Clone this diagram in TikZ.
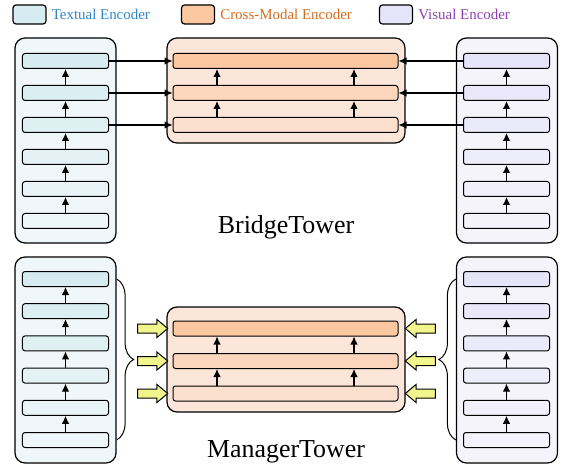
\documentclass[tikz,border=0pt]{standalone}
\usepackage{fontspec}
\setmainfont{Liberation Serif}
\usetikzlibrary{positioning,shapes.arrows,decorations.pathreplacing,arrows.meta}
\definecolor{txtcol}{RGB}{46,134,200}
\definecolor{xcol}{RGB}{214,108,30}
\definecolor{viscol}{RGB}{138,64,176}
\definecolor{txtlayer}{RGB}{214,236,240}
\definecolor{txtbox}{RGB}{240,247,250}
\definecolor{vislayer}{RGB}{230,228,248}
\definecolor{visbox}{RGB}{245,244,251}
\definecolor{xtop}{RGB}{251,200,162}
\definecolor{xmid}{RGB}{252,214,188}
\definecolor{xbot}{RGB}{252,224,207}
\definecolor{xboxcol}{RGB}{252,230,218}
\definecolor{yel}{RGB}{240,245,140}

\begin{document}
\begin{tikzpicture}[x=1bp,y=-1bp,
    tower/.style={draw,line width=1.2bp,rounded corners=10bp,minimum width=101bp,minimum height=205bp,inner sep=0},
    xbox/.style={tower,minimum width=238bp,minimum height=105bp},
    layer/.style={draw,line width=1bp,rounded corners=2.5bp,minimum width=86bp,minimum height=15bp,inner sep=0},
    xlayer/.style={layer,minimum width=225bp},
    swatch/.style={draw,line width=1.2bp,rounded corners=3bp,minimum width=33bp,minimum height=19bp,inner sep=0},
    legend/.style={font=\fontsize{15}{17}\selectfont,inner sep=0},
    title/.style={font=\fontsize{26}{30}\selectfont,inner sep=0},
    up/.style={-{Latex[length=8bp,width=7.5bp]},line width=1.1bp},
    fat/.style={single arrow,draw,fill=yel,line width=1bp,minimum height=30bp,inner xsep=0,inner ysep=4bp,single arrow head extend=4.5bp,single arrow tip angle=80},
    brc/.style={decorate,decoration={brace,amplitude=17bp},line width=1bp}]
\useasboundingbox (0,0) rectangle (570,466);

% legend
\node[swatch,fill=txtlayer] (sw1) at (29.5,14.5) {};
\node[legend,text=txtcol,right=5bp of sw1] (lg1) {Textual Encoder};
\node[swatch,fill=xtop] (sw2) at (198,14.5) {};
\node[legend,text=xcol,right=5bp of sw2] (lg2) {Cross-Modal Encoder};
\node[swatch,fill=vislayer] (sw3) at (396,14.5) {};
\node[legend,text=viscol,right=5bp of sw3] (lg3) {Visual Encoder};

% BridgeTower
\node[tower,fill=txtbox] (btb) at (65.5,140.5) {};
\node[tower,fill=visbox] (bvb) at (507,140.5) {};
\node[xbox,fill=xboxcol] (bxb) at (286,90.5) {};
\foreach \i in {1,...,6}{
  \pgfmathsetmacro\p{100-11*(\i-1)}
  \node[layer,fill=txtlayer!\p!white] (bt\i) at (65.5,{61+32*(\i-1)}) {};
  \node[layer,fill=vislayer!\p!white] (bv\i) at (506.5,{61+32*(\i-1)}) {};
}
\foreach \i/\c in {1/xtop,2/xmid,3/xbot}
  \node[xlayer,fill=\c] (bc\i) at (285.5,{61+32*(\i-1)}) {};
\foreach \i [evaluate=\i as \j using int(\i-1)] in {2,...,6}{
  \draw[up] (bt\i) -- (bt\j);
  \draw[up] (bv\i) -- (bv\j);
}
\foreach \i [evaluate=\i as \j using int(\i-1)] in {2,3}{
  \draw[up] ([xshift=-68.5bp]bc\i.north) -- ([xshift=-68.5bp]bc\j.south);
  \draw[up] ([xshift=68.5bp]bc\i.north) -- ([xshift=68.5bp]bc\j.south);
}
\foreach \i in {1,2,3}{
  \draw[up] (bt\i.east) -- (bc\i.west);
  \draw[up] (bv\i.west) -- (bc\i.east);
}
\node[title] (bname) at (286,227) {BridgeTower};

% ManagerTower
\node[tower,minimum height=206bp,fill=txtbox] (mtb) at (65.5,360) {};
\node[tower,minimum height=206bp,fill=visbox] (mvb) at (507,360) {};
\node[xbox,fill=xboxcol] (mxb) at (286,359.5) {};
\foreach \i in {1,...,6}{
  \pgfmathsetmacro\p{100-11*(\i-1)}
  \node[layer,fill=txtlayer!\p!white] (mt\i) at (65.5,{279+32.2*(\i-1)}) {};
  \node[layer,fill=vislayer!\p!white] (mv\i) at (506.5,{279+32.2*(\i-1)}) {};
}
\foreach \i/\c in {1/xtop,2/xmid,3/xbot}{
  \node[xlayer,fill=\c] (mc\i) at (285.5,{328.5+32.5*(\i-1)}) {};
  \node[fat] (ml\i) at (150,{328.5+32.5*(\i-1)}) {};
  \node[fat,shape border rotate=180] (mr\i) at (423,{328.5+32.5*(\i-1)}) {};
}
\foreach \i [evaluate=\i as \j using int(\i-1)] in {2,...,6}{
  \draw[up] (mt\i) -- (mt\j);
  \draw[up] (mv\i) -- (mv\j);
}
\foreach \i [evaluate=\i as \j using int(\i-1)] in {2,3}{
  \draw[up] ([xshift=-68.5bp]mc\i.north) -- ([xshift=-68.5bp]mc\j.south);
  \draw[up] ([xshift=68.5bp]mc\i.north) -- ([xshift=68.5bp]mc\j.south);
}
\draw[brc] (mt1 -| mtb.east) -- (mt6 -| mtb.east);
\draw[brc] (mv6 -| mvb.west) -- (mv1 -| mvb.west);
\node[title] (mname) at (286,452) {ManagerTower};
\end{tikzpicture}
\end{document}
